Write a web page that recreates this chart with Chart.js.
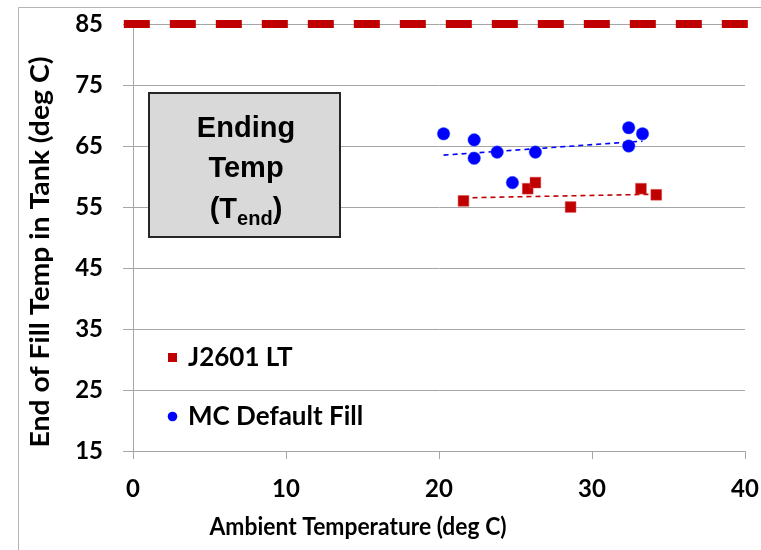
<!DOCTYPE html>
<html>
<head>
<meta charset="utf-8">
<script src="https://cdn.jsdelivr.net/npm/chart.js@4"></script>
<style>
  html, body { margin: 0; padding: 0; background: #ffffff; }
  #wrap { position: relative; width: 761px; height: 550px; }
</style>
</head>
<body>
<div id="wrap"><canvas id="c" width="761" height="550"></canvas></div>
<script>
// ---- data ----
const xTicks = [0, 10, 20, 30, 40];
const yTicks = [15, 25, 35, 45, 55, 65, 75, 85];

const j2601X = [21.6, 25.8, 26.3, 28.6, 33.2, 34.2];
const j2601Y = [56, 58, 59, 55, 58, 57];

const mcX = [20.3, 22.3, 22.3, 23.8, 26.3, 24.8, 32.4, 33.3, 32.4];
const mcY = [67, 66, 63, 64, 64, 59, 68, 67, 65];

const j2601TrendX = [21.6, 34.2];
const j2601TrendY = [56.5, 57.1];
const mcTrendX = [20.3, 33.3];
const mcTrendY = [63.5, 65.8];

const limitX = [-0.6, 41.1];
const limitY = [85, 85];

const seriesNames = ['J2601 LT', 'MC Default Fill'];
const xTitle = 'Ambient Temperature (deg C)';
const yTitle = 'End of Fill Temp in Tank (deg C)';
const boxLines = ['Ending', 'Temp'];

const pts = (xs, ys) => xs.map((x, i) => ({ x: x, y: ys[i] }));

const RED = '#c00000';
const BLUE = '#0000ff';
const GRID = '#a6a6a6';
const TXT = '#000000';
const FONT = 'Lato, "Open Sans", sans-serif';

const framePlugin = {
  id: 'frame',
  beforeDraw(chart) {
    const ctx = chart.ctx;
    ctx.save();
    ctx.strokeStyle = '#b4b4b4';
    ctx.lineWidth = 1;
    ctx.beginPath();
    ctx.moveTo(18.5, 550);
    ctx.lineTo(18.5, 7.5);
    ctx.lineTo(761, 7.5);
    ctx.stroke();
    ctx.restore();
  }
};

const decorPlugin = {
  id: 'decor',
  afterDraw(chart) {
    const ctx = chart.ctx;
    ctx.save();
    // axis titles
    ctx.fillStyle = TXT;
    ctx.textAlign = 'center';
    ctx.textBaseline = 'middle';
    ctx.save();
    ctx.font = 'bold 25px ' + FONT;
    ctx.translate(358, 527);
    ctx.scale(297 / ctx.measureText(xTitle).width, 1);
    ctx.fillText(xTitle, 0, 0);
    ctx.restore();
    ctx.save();
    ctx.font = 'bold 27px ' + FONT;
    ctx.translate(40, 252);
    ctx.rotate(-Math.PI / 2);
    ctx.scale(391 / ctx.measureText(yTitle).width, 1);
    ctx.fillText(yTitle, 0, 0);
    ctx.restore();

    // legend inside plot
    const legendY = [357, 416];
    chart.data.datasets.forEach((ds) => {
      if (ds.legendIndex === undefined) return;
      const y = legendY[ds.legendIndex];
      ctx.fillStyle = ds.backgroundColor;
      if (ds.pointStyle === 'rect') {
        ctx.fillRect(168, y - 4, 9, 9);
      } else {
        ctx.beginPath();
        ctx.arc(172.5, y + 0.5, 4.8, 0, Math.PI * 2);
        ctx.fill();
      }
      ctx.fillStyle = TXT;
      ctx.font = 'bold 26px ' + FONT;
      ctx.textAlign = 'left';
      ctx.textBaseline = 'middle';
      ctx.fillText(ds.label, 188, y + 1);
    });

    // text box
    ctx.fillStyle = '#d9d9d9';
    ctx.fillRect(149, 93, 191, 144);
    ctx.strokeStyle = '#262626';
    ctx.lineWidth = 2;
    ctx.strokeRect(149, 93, 191, 144);
    ctx.fillStyle = TXT;
    ctx.textAlign = 'center';
    ctx.textBaseline = 'alphabetic';
    const big = 'bold 29px "Liberation Sans", Arial, sans-serif';
    const small = 'bold 20px "Liberation Sans", Arial, sans-serif';
    ctx.font = big;
    ctx.fillText(boxLines[0], 246, 137);
    ctx.fillText(boxLines[1], 246, 177);
    // (T_end)
    const parts = [['(T', big, 0], ['end', small, 7], [')', big, 0]];
    let total = 0;
    parts.forEach(p => { ctx.font = p[1]; total += ctx.measureText(p[0]).width; });
    let x = 246 - total / 2;
    ctx.textAlign = 'left';
    parts.forEach(p => {
      ctx.font = p[1];
      ctx.fillText(p[0], x, 218 + p[2]);
      x += ctx.measureText(p[0]).width;
    });
    ctx.restore();
  }
};

function zeroPad(scale) {
  scale.paddingLeft = 0;
  scale.paddingRight = 0;
  scale.paddingTop = 0;
  scale.paddingBottom = 0;
}

new Chart(document.getElementById('c'), {
  type: 'scatter',
  data: {
    datasets: [
      {
        label: 'limit',
        type: 'line',
        data: pts(limitX, limitY),
        borderColor: RED,
        borderWidth: 8,
        borderDash: [26, 20],
        pointRadius: 0,
        clip: false,
        order: 5
      },
      {
        label: 'J2601 trend',
        type: 'line',
        data: pts(j2601TrendX, j2601TrendY),
        borderColor: RED,
        borderWidth: 1.6,
        borderDash: [5, 4],
        pointRadius: 0,
        order: 4
      },
      {
        label: 'MC trend',
        type: 'line',
        data: pts(mcTrendX, mcTrendY),
        borderColor: BLUE,
        borderWidth: 1.6,
        borderDash: [5, 4],
        pointRadius: 0,
        order: 4
      },
      {
        label: seriesNames[0],
        legendIndex: 0,
        data: pts(j2601X, j2601Y),
        pointStyle: 'rect',
        pointRadius: 7.6,
        backgroundColor: RED,
        borderColor: '#d84040',
        borderWidth: 0.5,
        order: 2
      },
      {
        label: seriesNames[1],
        legendIndex: 1,
        data: pts(mcX, mcY),
        pointStyle: 'circle',
        pointRadius: 6.3,
        backgroundColor: BLUE,
        borderColor: '#3a5cff',
        borderWidth: 0.5,
        order: 1
      }
    ]
  },
  options: {
    responsive: false,
    animation: false,
    events: [],
    layout: { padding: { left: 0, right: 16, top: 24, bottom: 0 } },
    plugins: { legend: { display: false }, tooltip: { enabled: false } },
    scales: {
      x: {
        type: 'linear',
        min: 0, max: 40,
        afterBuildTicks(scale) { scale.ticks = xTicks.map(v => ({ value: v })); },
        afterFit(scale) { scale.height = 99; zeroPad(scale); },
        grid: { drawOnChartArea: false, color: GRID, tickLength: 8, lineWidth: 1 },
        border: { display: false },
        ticks: { color: TXT, font: { family: FONT, size: 24, weight: 'bold' }, padding: 16, maxRotation: 0 }
      },
      y: {
        type: 'linear',
        min: 15, max: 85,
        afterBuildTicks(scale) { scale.ticks = yTicks.map(v => ({ value: v })); },
        afterFit(scale) { scale.width = 133; zeroPad(scale); },
        grid: { color: GRID, tickLength: 10, lineWidth: 1 },
        border: { display: true, color: GRID, width: 1 },
        ticks: { color: TXT, font: { family: FONT, size: 24, weight: 'bold' }, padding: 20 }
      }
    }
  },
  plugins: [framePlugin, decorPlugin]
});
</script>
</body>
</html>
